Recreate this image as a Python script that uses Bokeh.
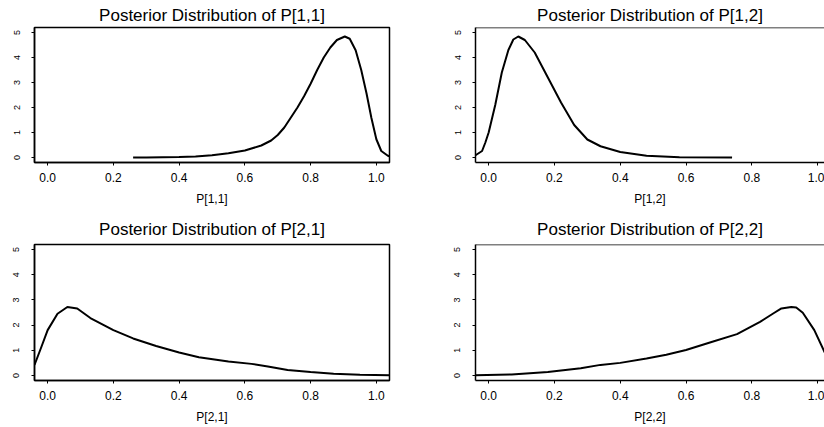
from bokeh.plotting import figure
from bokeh.layouts import gridplot
from bokeh.models import FixedTicker, PrintfTickFormatter, Span, Range1d
from bokeh.embed import file_html
from bokeh.resources import INLINE

# ---- data ----
titles = ["Posterior Distribution of P[1,1]", "Posterior Distribution of P[1,2]",
          "Posterior Distribution of P[2,1]", "Posterior Distribution of P[2,2]"]
xlabels = ["P[1,1]", "P[1,2]", "P[2,1]", "P[2,2]"]
x_ticks = [0.0, 0.2, 0.4, 0.6, 0.8, 1.0]
y_ticks = [0, 1, 2, 3, 4, 5]

p11_x = [0.26, 0.30, 0.35, 0.40, 0.45, 0.50, 0.55, 0.60, 0.65, 0.68, 0.70, 0.72, 0.74,
         0.76, 0.78, 0.80, 0.82, 0.84, 0.86, 0.88, 0.904, 0.919, 0.937, 0.954, 0.970,
         0.985, 1.000, 1.015, 1.035, 1.04]
p11_y = [0.0, 0.0, 0.01, 0.02, 0.04, 0.09, 0.17, 0.28, 0.48, 0.68, 0.9, 1.2, 1.6,
         2.0, 2.45, 2.95, 3.5, 4.0, 4.4, 4.7, 4.84, 4.75, 4.29, 3.5, 2.57,
         1.58, 0.73, 0.26, 0.07, 0.05]

p12_x = [-0.04, -0.02, -0.01, 0.0, 0.02, 0.04, 0.06, 0.075, 0.09, 0.11, 0.14, 0.18,
         0.22, 0.26, 0.30, 0.34, 0.40, 0.48, 0.58, 0.74]
p12_y = [0.09, 0.26, 0.6, 1.0, 2.1, 3.4, 4.3, 4.72, 4.84, 4.7, 4.2, 3.2,
         2.2, 1.3, 0.72, 0.45, 0.22, 0.07, 0.01, 0.0]

p21_x = [-0.04, -0.02, 0.0, 0.03, 0.06, 0.09, 0.13, 0.2, 0.26, 0.33, 0.4, 0.46,
         0.55, 0.62, 0.67, 0.73, 0.8, 0.87, 0.95, 1.04]
p21_y = [0.42, 1.1, 1.8, 2.45, 2.72, 2.66, 2.28, 1.8, 1.47, 1.17, 0.91, 0.72,
         0.55, 0.46, 0.36, 0.22, 0.14, 0.07, 0.03, 0.01]

p22_x = [-0.04, 0.07, 0.18, 0.28, 0.34, 0.4, 0.48, 0.54, 0.6, 0.68, 0.755, 0.825,
         0.865, 0.89, 0.92, 0.935, 0.955, 0.99, 1.025]
p22_y = [0.01, 0.04, 0.14, 0.29, 0.42, 0.5, 0.67, 0.82, 1.01, 1.34, 1.64, 2.13,
         2.46, 2.66, 2.72, 2.7, 2.49, 1.8, 0.82]

series = [(p11_x, p11_y), (p12_x, p12_y), (p21_x, p21_y), (p22_x, p22_y)]

FONT = "Liberation Sans"
Y_MIN, Y_MAX = -0.2, 5.2


def make(i):
    left_col = (i % 2 == 0)
    top_row = (i < 2)
    width = 440 if left_col else 384
    height = 210 if top_row else 217
    xr = Range1d(-0.04, 1.04) if left_col else Range1d(-0.04, 1.021)
    p = figure(width=width, height=height, x_range=xr, y_range=Range1d(Y_MIN, Y_MAX),
               output_backend="svg", toolbar_location=None, title=titles[i])
    p.min_border_left = 34 if left_col else 35
    p.min_border_right = 51 if left_col else 0
    p.min_border_top = 26 if top_row else 34
    p.min_border_bottom = 48 if top_row else 47
    p.background_fill_color = "white"
    p.border_fill_color = "white"
    p.grid.visible = False

    p.title.text_font = FONT
    p.title.text_font_size = "17px"
    p.title.text_font_style = "normal"
    p.title.text_color = "black"
    p.title.align = "center"
    p.title.standoff = 6 if top_row else 12

    if left_col:
        p.outline_line_color = "black"
        p.outline_line_width = 1.5
        p.outline_line_alpha = 1.0
    else:
        p.outline_line_color = None
        p.add_layout(Span(location=Y_MAX, dimension="width", line_color="black",
                          line_width=1.5))

    for ax in (p.xaxis[0], p.yaxis[0]):
        ax.axis_line_color = "black"
        ax.axis_line_width = 1.5
        ax.major_tick_line_color = "black"
        ax.major_tick_line_width = 1
        ax.major_tick_in = 0
        ax.major_tick_out = 3
        ax.minor_tick_line_color = None
        ax.major_label_text_font = FONT
        ax.major_label_text_color = "black"

    xa = p.xaxis[0]
    xa.ticker = FixedTicker(ticks=x_ticks)
    xa.formatter = PrintfTickFormatter(format="%.1f")
    xa.major_label_text_font_size = "12px"
    xa.major_label_standoff = 7
    xa.axis_label = xlabels[i]
    xa.axis_label_text_font = FONT
    xa.axis_label_text_font_size = "12px"
    xa.axis_label_text_font_style = "normal"
    xa.axis_label_text_color = "black"
    xa.axis_label_standoff = 7

    ya = p.yaxis[0]
    ya.ticker = FixedTicker(ticks=y_ticks)
    ya.formatter = PrintfTickFormatter(format="%d")
    ya.major_label_text_font_size = "9px"
    ya.major_label_orientation = "vertical"
    ya.major_label_standoff = 12

    xs, ys = series[i]
    p.line(xs, ys, line_color="black", line_width=2)
    return p


plots = [make(i) for i in range(4)]
grid = gridplot([[plots[0], plots[1]], [plots[2], plots[3]]], toolbar_location=None)

open("out.html", "w").write(file_html(grid, INLINE))
